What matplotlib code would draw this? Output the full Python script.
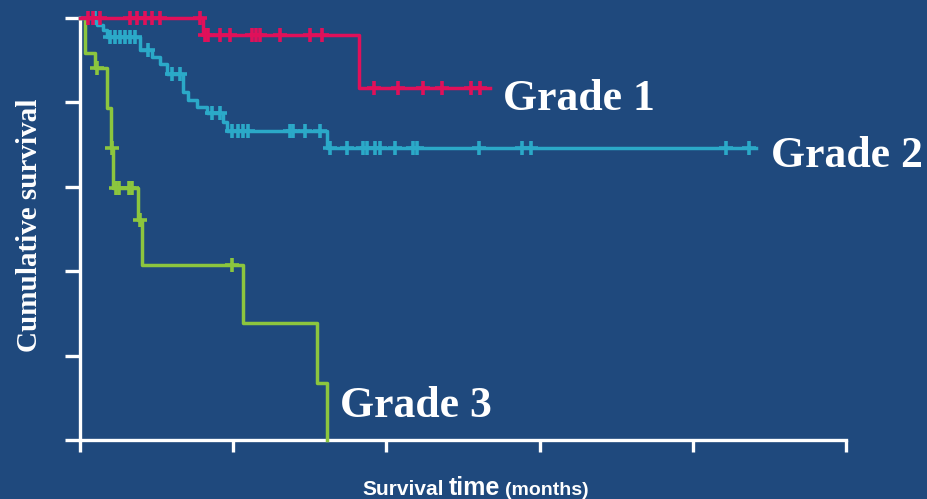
import numpy as np
import matplotlib.pyplot as plt

bg = '#1F497D'
red = '#E0105A'
cyan = '#2BA9C8'
green = '#8CC63E'

# Grade 1 : step times (months) and survival after each step
g1_times = [0, 40.2, 91.2]
g1_surv = [1.0, 0.960, 0.834]
g1_end = 133.7
g1_cens = [2.6, 4.2, 6.5, 16.3, 18.6, 21.2, 23.5, 26.1, 39.2,
           40.8, 41.8, 45.8, 49.0, 56.2, 57.5, 58.8, 65.4, 75.2, 79.1,
           96.1, 103.9, 112.1, 118.3, 127.5, 130.7]

# Grade 2
g2_times = [0, 5.6, 7.5, 8.8, 19.6, 23.5, 26.1, 28.4, 33.7, 35.3, 38.2,
            41.5, 46.7, 48.0, 80.7]
g2_surv = [1.0, 0.983, 0.972, 0.955, 0.924, 0.908, 0.891, 0.867, 0.825,
           0.806, 0.789, 0.775, 0.754, 0.732, 0.692]
g2_end = 220.5
g2_cens = [4.9, 9.8, 11.4, 13.1, 14.7, 16.3, 18.0, 22.2, 30.1, 32.7,
           43.1, 45.8, 49.7, 51.6, 53.3, 54.9, 68.6, 69.6, 73.5, 78.4,
           81.7, 87.3, 92.2, 93.8, 96.4, 98.0, 102.9, 108.8, 110.1,
           130.1, 144.4, 147.1, 210.8, 218.3]

# Grade 3
g3_times = [0, 1.6, 4.9, 8.8, 10.1, 10.8, 19.0, 20.3, 53.3, 77.5, 80.7]
g3_surv = [1.0, 0.917, 0.882, 0.787, 0.692, 0.597, 0.521, 0.415, 0.277,
           0.135, 0.0]
g3_end = 80.7
g3_cens = [5.6, 10.4, 11.8, 12.8, 15.9, 16.9, 19.6, 49.7]

x_ticks = [0, 50, 100, 150, 200, 250]
y_ticks = [0, 0.2, 0.4, 0.6, 0.8, 1.0]

fig = plt.figure(figsize=(9.27, 4.99), dpi=100, facecolor=bg)
ax = fig.add_axes([80/927, 1-440/499, (846-80)/927, (440-18)/499])
ax.set_facecolor(bg)


def draw(times, surv, end, cens, col):
    x = list(times) + [end]
    y = list(surv) + [surv[-1]]
    ax.plot(x, y, drawstyle='steps-post', color=col, lw=2.5,
            clip_on=False, zorder=3)
    idx = np.searchsorted(times, cens, side='right') - 1
    cy = np.array(surv)[idx]
    ax.plot(cens, cy, '+', color=col, ms=10, mew=2.6, clip_on=False,
            zorder=4)


draw(g3_times, g3_surv, g3_end, g3_cens, green)
draw(g2_times, g2_surv, g2_end, g2_cens, cyan)
draw(g1_times, g1_surv, g1_end, g1_cens, red)

ax.set_xlim(0, 250)
ax.set_ylim(0, 1.0)
ax.set_xticks(x_ticks)
ax.set_yticks(y_ticks)
ax.set_xticklabels([])
ax.set_yticklabels([])
for s in ['top', 'right']:
    ax.spines[s].set_visible(False)
for s in ['left', 'bottom']:
    ax.spines[s].set_color('white')
    ax.spines[s].set_linewidth(2.4)
ax.tick_params(axis='y', direction='out', length=10.5, width=2.4,
               color='white')
ax.tick_params(axis='x', direction='out', length=8.5, width=2.4,
               color='white')

serif = ['Liberation Serif', 'DejaVu Serif']
ax.text(137.9, 0.782, 'Grade 1', color='white', fontsize=31.5,
        fontweight='bold', family=serif, va='baseline')
ax.text(225.5, 0.647, 'Grade 2', color='white', fontsize=31.5,
        fontweight='bold', family=serif, va='baseline', clip_on=False)
ax.text(85.0, 0.0545, 'Grade 3', color='white', fontsize=31.5,
        fontweight='bold', family=serif, va='baseline')

fig.text(30/927, 1-225/499, 'Cumulative survival', rotation=90,
         color='white', fontsize=21, fontweight='bold', family=serif,
         ha='center', va='center')

# x label built from three pieces of different size, placed one after another
sans = ['Liberation Sans', 'DejaVu Sans']
yb = 1 - 495/499
renderer = fig.canvas.get_renderer()
xpos = 362
for word, size in [('Survival', 15), ('time', 18), ('(months)', 14)]:
    t = fig.text(xpos/927, yb, word, color='white', fontsize=size,
                 fontweight='bold', family=sans, va='baseline')
    xpos += t.get_window_extent(renderer).width + 5

fig.savefig('out.png', dpi=100, facecolor=bg)
